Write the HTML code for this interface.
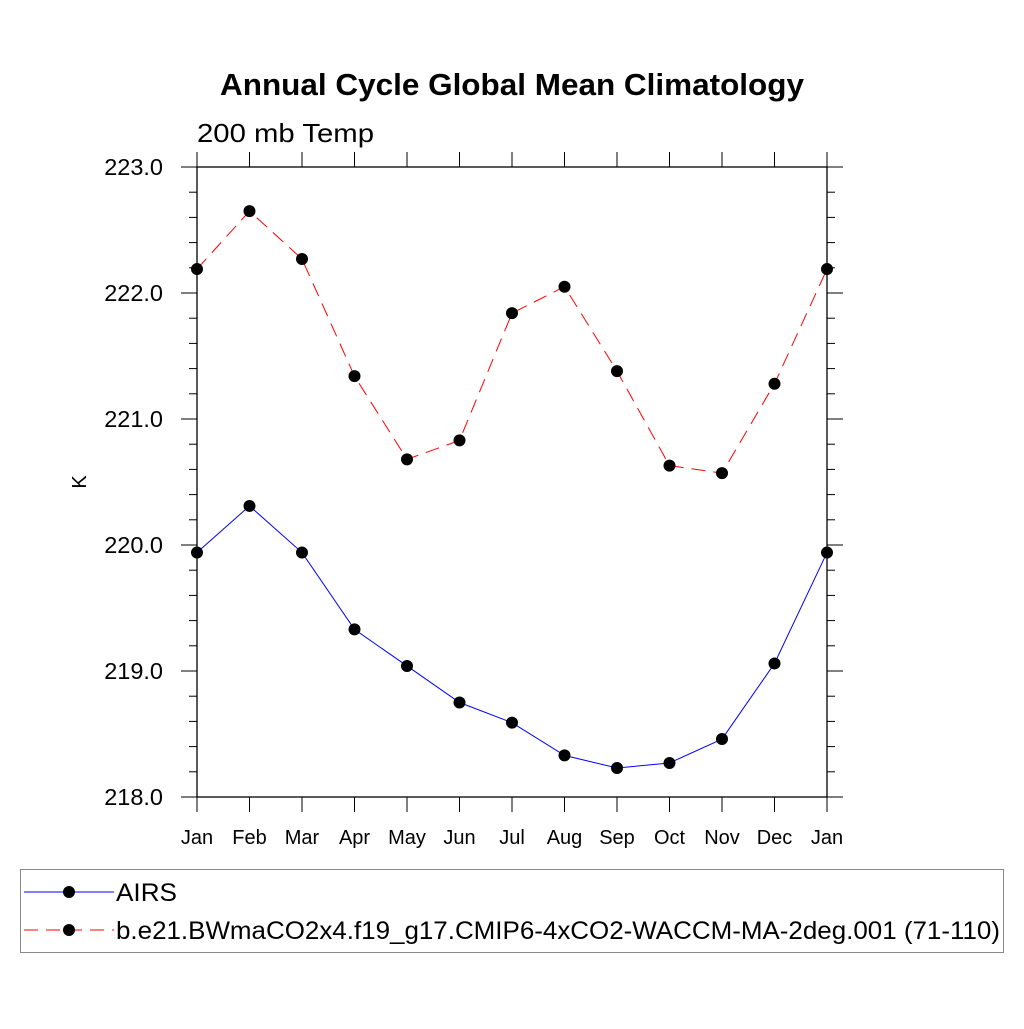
<!DOCTYPE html>
<html><head><meta charset="utf-8"><style>body{margin:0;background:#fff}svg text{font-family:"Liberation Sans",sans-serif}</style></head>
<body>
<svg id="c" width="1024" height="1024" xmlns="http://www.w3.org/2000/svg">
<text x="220" y="95" font-size="31" font-weight="bold" textLength="584" lengthAdjust="spacingAndGlyphs">Annual Cycle Global Mean Climatology</text>
<text x="197" y="142" font-size="26" textLength="177" lengthAdjust="spacingAndGlyphs">200 mb Temp</text>
<text x="86" y="482" font-size="20" text-anchor="middle" transform="rotate(-90 86 482)">K</text>
<g id="axes"></g>
<g id="series"></g>
<rect x="20.5" y="869.5" width="983" height="83" fill="none" stroke="#888"/>
<g>
<line x1="24" y1="892" x2="114" y2="892" stroke="#00f"/><circle cx="69" cy="892" r="6"/>
<text x="116" y="901" font-size="25" textLength="61" lengthAdjust="spacingAndGlyphs">AIRS</text></g>
<g>
<line x1="24" y1="930" x2="114" y2="930" stroke="#f00" stroke-dasharray="14,8"/><circle cx="69" cy="930" r="6"/>
<text x="116" y="939" font-size="25" textLength="884" lengthAdjust="spacingAndGlyphs">b.e21.BWmaCO2x4.f19_g17.CMIP6-4xCO2-WACCM-MA-2deg.001 (71-110)</text></g>
</svg>
<script>
const months=["Jan","Feb","Mar","Apr","May","Jun","Jul","Aug","Sep","Oct","Nov","Dec","Jan"];
const airs=[219.94,220.31,219.94,219.33,219.04,218.75,218.59,218.33,218.23,218.27,218.46,219.06,219.94];
const model=[222.19,222.65,222.27,221.34,220.68,220.83,221.84,222.05,221.38,220.63,220.57,221.28,222.19];
const yTicks=[218,219,220,221,222,223];
const X0=197,X1=827,Y0=797,Y1=167,ymin=218,ymax=223;
const xs=i=>X0+(X1-X0)*i/(months.length-1);
const ys=v=>Y0-(Y0-Y1)*(v-ymin)/(ymax-ymin);
const NS="http://www.w3.org/2000/svg";
function mk(t,a,p){const e=document.createElementNS(NS,t);for(const k in a)e.setAttribute(k,a[k]);p.appendChild(e);return e;}
const ax=document.getElementById('axes');
const fr=mk('rect',{x:X0,y:Y1,width:X1-X0,height:Y0-Y1,fill:'none',stroke:'#000','stroke-width':1.3},ax);


for(let v=ymin;v<=ymax+1e-9;v+=0.2){const y=ys(v);const maj=Math.abs(v-Math.round(v))<1e-6;const L=maj?16:8;
mk('line',{x1:X0-L,y1:y,x2:X0,y2:y,stroke:'#000'},ax);mk('line',{x1:X1,y1:y,x2:X1+L,y2:y,stroke:'#000'},ax);}
yTicks.forEach(v=>{const t=mk('text',{x:163,y:ys(v)+8,'font-size':23.5,'text-anchor':'end'},ax);t.textContent=v.toFixed(1);

});
months.forEach((m,i)=>{const x=xs(i);mk('line',{x1:x,y1:Y0,x2:x,y2:Y0+15,stroke:'#000'},ax);mk('line',{x1:x,y1:Y1-15,x2:x,y2:Y1,stroke:'#000'},ax);
const t=mk('text',{x:x,y:844,'font-size':20,'text-anchor':'middle'},ax);t.textContent=m;

});
const sg=document.getElementById('series');
function series(d,col,dash,name){const p=mk('polyline',{points:d.map((v,i)=>xs(i)+','+ys(v)).join(' '),fill:'none',stroke:col,'stroke-width':1,'stroke-dasharray':dash},sg);


d.forEach((v,i)=>{const c=mk('circle',{cx:xs(i),cy:ys(v),r:6},sg);

});}
series(model,'#f00','14,8','model');
series(airs,'#00f','none','airs');
</script>
</body></html>
